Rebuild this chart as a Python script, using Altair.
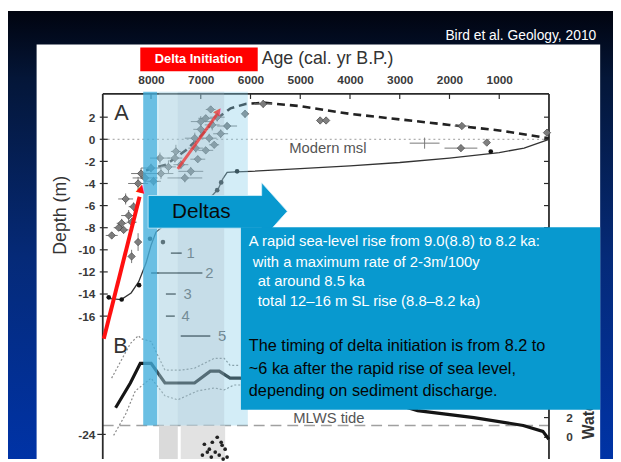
import altair as alt
import pandas as pd

W, H = 613, 454
X_DOM = [-1287, 10875]
Y_DOM = [-28.93, 11.61]
FONT = "Liberation Sans"

# ---------------- data ----------------
AGE_TICKS = [8000, 7000, 6000, 5000, 4000, 3000, 2000, 1000]
DEPTH_TICKS = [2, 0, -2, -4, -6, -8, -10, -12, -14, -16]
DEPTH_TICK_B = -26.7   # the "-24" tick of the lower panel

# panel A frame
A_LEFT, A_RIGHT, A_TOP, A_BOTTOM = 8970, 0, 4.1, -28.93

# sea-level index points (diamonds with error crosses)
PT_AGE = [5745, 6110, 4600, 4480, 1750, 1770, 1250, 40, 2500,
          7820, 7520, 7800, 7320, 7060, 7120, 7000, 6830, 6730, 7000,
          6770, 6470, 6670, 7500, 8120, 8000, 7650, 7400, 6900, 6600,
          7200, 7950, 6900, 6800, 7100,
          8790, 8450, 8590, 8550, 8260, 8390, 8260, 8200, 8650, 8390, 8510, 8350]
PT_DEPTH = [3.2, 2.3, 1.7, 1.7, 1.2, -0.8, -0.3, 0.6, -0.35,
            -1.7, -1.7, -3.1, -3.5, -1.8, 0.1, 0.9, 0.1, -0.5, 1.6,
            1.3, 1.2, 2.0, -1.1, -3.5, -2.6, -2.5, -2.3, -1.0, 0.5,
            -2.9, -3.8, 1.9, 2.7, -0.8,
            -8.7, -6.9, -7.6, -8.2, -9.3, -10.6, -4.0, -3.1, -8.0, -7.5, -5.4, -6.1]
PT_AGE_ERR = [180, 0, 0, 0, 150, 330, 0, 0, 300,
              200, 150, 250, 350, 150, 200, 150, 150, 100, 200,
              150, 200, 150, 100, 250, 200, 150, 150, 150, 150,
              250, 150, 150, 100, 150,
              120, 150, 100, 100, 0, 0, 200, 200, 100, 100, 150, 100]
PT_DEPTH_ERR = [0.35, 0.35, 0, 0, 0.2, 0.3, 0, 0.3, 0.5,
                0.5, 0.4, 0.5, 0.4, 0.3, 0.5, 0.4, 0.4, 0.3, 0.5,
                0.5, 0.3, 0.4, 0.6, 0.5, 0.4, 0.6, 0.4, 0.3, 0.4,
                0.4, 0.4, 0.3, 0.3, 0.4,
                0.3, 0.5, 0.4, 0.3, 0.8, 0.6, 0.6, 0.5, 0.3, 0.4, 0.5, 0.4]
PT_MARKER = [1, 1, 1, 1, 1, 1, 1, 1, 0] + [1] * 37

# limiting dates (black dots)
DOT_AGE = [8850, 8590, 8240, 8020, 7760, 6670, 6590, 6270, 1170]
DOT_DEPTH = [-14.3, -14.5, -13.2, -9.0, -9.3, -4.6, -3.9, -2.9, -1.1]

# upper envelope (dashed)
DASH_AGE = [8100, 7700, 7300, 7000, 6700, 6400, 6100, 5700, 5000, 4000, 3000, 2000, 1000, 0]
DASH_DEPTH = [-2.8, -2.3, -1.0, 0.3, 1.8, 2.8, 3.2, 3.3, 3.0, 2.3, 1.8, 1.3, 0.8, 0.1]

# lower envelope (solid)
LOW_AGE = [8880, 8600, 8400, 8250, 8100, 8000, 7900, 7600, 7300, 7000, 6750, 6650,
           6560, 6470, 6300, 6000, 5000, 4000, 3000, 2000, 1000, 500, 0]
LOW_DEPTH = [-14.4, -14.5, -13.9, -12.9, -11.2, -9.6, -8.4, -7.3, -6.6, -6.0, -5.0, -4.5,
             -3.6, -3.0, -2.95, -2.9, -2.65, -2.4, -2.1, -1.7, -1.2, -0.8, 0.0]

# numbered age ranges 1-5
NUM_LABEL = ["1", "2", "3", "4", "5"]
NUM_FROM = [7601, 7998, 7701, 7701, 7403]
NUM_TO = [7383, 6967, 7502, 7522, 6808]
NUM_DEPTH = [-10.3, -12.1, -14.0, -16.0, -17.8]
NUM_LABEL_AGE = [7205, 6828, 7264, 7304, 6570]

# panel B curves
B_MID_AGE = [8712, 8415, 8216, 7998, 7720, 7125, 6808, 6629, 6411, 6213, 5082, 3495,
             2641, 1510, 518, 122, 3]
B_MID_DEPTH = [-24.29, -22.05, -20.27, -20.27, -22.05, -22.05, -20.98, -20.98, -21.61,
               -21.61, -22.05, -23.39, -24.55, -25.18, -25.89, -26.43, -27.14]
B_UP_AGE = [8792, 8415, 8256, 8197, 7998, 7720, 7403, 7125, 6728, 6530, 6411, 6213]
B_UP_DEPTH = [-21.61, -18.48, -17.77, -18.04, -18.30, -20.89, -20.89, -20.71, -19.82,
              -19.82, -20.45, -20.45]
B_LO_AGE = [8752, 8514, 8316, 7998, 7720, 7462, 7066, 6728, 6530, 6332, 6173]
B_LO_DEPTH = [-26.79, -24.91, -22.77, -21.61, -23.21, -23.57, -22.77, -22.50, -22.68,
              -22.23, -22.23]
MLWS_DEPTH = -25.89

# panel C scatter (cut off at bottom)
C_AGE = [6927, 6768, 6669, 6570, 6828, 6709, 6629, 6510, 6967, 6471, 6788, 6590, 6868, 6550]
C_DEPTH = [-27.59, -27.41, -26.96, -27.68, -28.04, -28.30, -28.57, -28.04, -28.57, -28.75,
           -28.75, -27.41, -28.30, -28.93]

# delta-initiation shading (ages)
STRIPE = [8157, 7879]
BAND = [7879, 6054]
HATCH = [7839, 7462]
GREY = [7462, 6530]
LOW_GREY = [7403, 6510]
BAND_TOP, BAND_BOTTOM = 4.3, -25.9

# red arrows (rapid rise)
RED1_AGE = [8950, 8230]
RED1_DEPTH = [-18.04, -5.2]
RED1_HEAD = (8197, -4.4)
RED2_AGE = [7462, 6680]
RED2_DEPTH = [-2.68, 2.2]
RED2_HEAD = (6640, 2.55)

# "Deltas" arrow outline
ARROW_AGE = [8058, 5776, 5775, 5260]
ARROW_TOP = [-5.09, -5.09, -3.93, -6.52]
ARROW_BOT = [-8.04, -8.04, -9.10, -6.52]

# text box
BOX = dict(x=6193, x2=-1029, y=-7.95, y2=-24.46)
WHITE_LINES = ["A rapid sea-level rise from 9.0(8.8) to 8.2 ka:",
               "with a maximum rate of 2-3m/100y",
               "at around 8.5 ka",
               "total 12\u201316 m SL rise (8.8\u20138.2 ka)"]
WHITE_AGE = [6034, 5955, 5855, 5855]
WHITE_DEPTH = [-9.20, -11.07, -12.86, -14.64]
BLACK_LINES = ["The timing of delta initiation is from 8.2 to",
               "~6 ka after the rapid rise of sea level,",
               "depending on sediment discharge."]
BLACK_AGE = [6034, 6034, 6034]
BLACK_DEPTH = [-18.75, -20.80, -22.77]

# ---------------- scales / helpers ----------------
xs = alt.Scale(domain=X_DOM, reverse=True, nice=False, zero=False)
ys = alt.Scale(domain=Y_DOM, nice=False, zero=False)

XAX = alt.Axis(orient="top", offset=-84, values=AGE_TICKS, format="d", domain=False,
               ticks=False, tickSize=0, grid=False, labelPadding=7, title=None, zindex=1,
               labelFont=FONT, labelFontSize=12, labelFontWeight="bold",
               labelColor="#3a3a3a", labelFlush=False, labelOverlap=False)
YAX = alt.Axis(orient="left", offset=-96, values=DEPTH_TICKS + [DEPTH_TICK_B],
               labelExpr="datum.value < -20 ? '-24' : '' + datum.value",
               domain=False, ticks=False, tickSize=0, grid=False, labelPadding=8,
               title=None, zindex=1, labelFont=FONT, labelFontSize=12,
               labelFontWeight="bold", labelColor="#3a3a3a", labelFlush=False,
               labelOverlap=False)


def X(f):
    return alt.X(f, type="quantitative", scale=xs, axis=XAX)


def Y(f):
    return alt.Y(f, type="quantitative", scale=ys, axis=YAX)


def rect(x, x2, y, y2, **kw):
    d = pd.DataFrame({"x": [x], "x2": [x2], "y": [y], "y2": [y2]})
    return alt.Chart(d).mark_rect(**kw).encode(x=X("x"), x2="x2", y=Y("y"), y2="y2")


def rules(xl, x2l, yl, y2l, **kw):
    d = pd.DataFrame({"x": xl, "x2": x2l, "y": yl, "y2": y2l})
    return alt.Chart(d).mark_rule(**kw).encode(x=X("x"), x2="x2", y=Y("y"), y2="y2")


def line(ages, depths, **kw):
    d = pd.DataFrame({"a": ages, "d": depths, "o": list(range(len(ages)))})
    return alt.Chart(d).mark_line(**kw).encode(x=X("a"), y=Y("d"), order="o:Q")


def text(ages, depths, labels, **kw):
    d = pd.DataFrame({"a": ages, "d": depths, "t": labels})
    kw.setdefault("font", FONT)
    return alt.Chart(d).mark_text(**kw).encode(x=X("a"), y=Y("d"), text="t:N")


layers = []

# slide background gradient
layers.append(rect(X_DOM[1], X_DOM[0], Y_DOM[1], Y_DOM[0], color={
    "gradient": "linear", "x1": 0, "y1": 0, "x2": 0, "y2": 1,
    "stops": [{"offset": 0, "color": "#01040f"},
              {"offset": 0.15, "color": "#041638"},
              {"offset": 0.55, "color": "#052a78"},
              {"offset": 1, "color": "#0033a6"}]}))
# white figure panel
layers.append(rect(10300, -1029, 8.57, Y_DOM[0], color="white"))

# modern msl dotted + MLWS dashed
layers.append(rules([A_LEFT], [A_RIGHT], [0], [0], color="#9a9a9a", strokeDash=[2, 3], strokeWidth=1))
layers.append(rules([A_LEFT], [A_RIGHT], [MLWS_DEPTH], [MLWS_DEPTH], color="#a0a0a0",
                    strokeDash=[11, 6], strokeWidth=1.5))

# lower grey blocks under the shading
layers.append(rect(HATCH[0], HATCH[1], BAND_BOTTOM, A_BOTTOM, color="#dadada"))
layers.append(rect(LOW_GREY[0], LOW_GREY[1], BAND_BOTTOM, A_BOTTOM, color="#e2e2e2"))

# frame and ticks
layers.append(rules([A_LEFT, A_LEFT, A_RIGHT], [A_RIGHT, A_LEFT, A_RIGHT],
                    [A_TOP, A_TOP, A_TOP], [A_TOP, A_BOTTOM, A_BOTTOM],
                    color="#2a2a2a", strokeWidth=1.8))
layers.append(rules(AGE_TICKS, AGE_TICKS, [A_TOP] * 8, [A_TOP - 0.45] * 8,
                    color="#2a2a2a", strokeWidth=1.2))
layers.append(rules([A_LEFT + 60] * 10, [A_LEFT - 100] * 10, DEPTH_TICKS, DEPTH_TICKS,
                    color="#2a2a2a", strokeWidth=1.2))
layers.append(rules([A_RIGHT] * 10, [A_RIGHT + 100] * 10, DEPTH_TICKS, DEPTH_TICKS,
                    color="#2a2a2a", strokeWidth=1.2))
layers.append(rules([A_LEFT + 110, A_RIGHT, A_RIGHT], [A_LEFT - 60, A_RIGHT + 100, A_RIGHT + 100],
                    [DEPTH_TICK_B, -25.18, -26.96], [DEPTH_TICK_B, -25.18, -26.96],
                    color="#2a2a2a", strokeWidth=1.2))

# envelopes
layers.append(line(LOW_AGE, LOW_DEPTH, color="#333333", strokeWidth=1.3))
layers.append(line(DASH_AGE, DASH_DEPTH, color="#222222", strokeWidth=2.6, strokeDash=[8, 5]))

# error bars and points
pts = pd.DataFrame({"a": PT_AGE, "d": PT_DEPTH, "ae": PT_AGE_ERR, "de": PT_DEPTH_ERR,
                    "m": PT_MARKER})
pts["a1"] = pts["a"] - pts["ae"]
pts["a2"] = pts["a"] + pts["ae"]
pts["d1"] = pts["d"] - pts["de"]
pts["d2"] = pts["d"] + pts["de"]
layers.append(alt.Chart(pts).mark_rule(color="#777777", strokeWidth=1).encode(
    x=X("a1"), x2="a2", y=Y("d")))
layers.append(alt.Chart(pts).mark_rule(color="#777777", strokeWidth=1).encode(
    x=X("a"), y=Y("d1"), y2="d2"))
layers.append(alt.Chart(pts[pts["m"] == 1]).mark_point(
    shape="diamond", filled=True, size=55, color="#7a7a7a", stroke="#4a4a4a",
    strokeWidth=0.8, opacity=0.95).encode(x=X("a"), y=Y("d")))
dots = pd.DataFrame({"a": DOT_AGE, "d": DOT_DEPTH})
layers.append(alt.Chart(dots).mark_circle(size=22, color="#111111", opacity=1).encode(
    x=X("a"), y=Y("d")))

# numbered ranges
layers.append(rules(NUM_FROM, NUM_TO, NUM_DEPTH, NUM_DEPTH, color="#222222", strokeWidth=1.6))
layers.append(text(NUM_LABEL_AGE, NUM_DEPTH, NUM_LABEL, fontSize=15, color="#555555",
                   align="center", baseline="middle"))

# panel B
layers.append(line(B_UP_AGE, B_UP_DEPTH, color="#8a8a8a", strokeWidth=1.2, strokeDash=[2, 2]))
layers.append(line(B_LO_AGE, B_LO_DEPTH, color="#8a8a8a", strokeWidth=1.2, strokeDash=[2, 2]))
layers.append(line(B_MID_AGE, B_MID_DEPTH, color="#151515", strokeWidth=3.2))

cdf = pd.DataFrame({"a": C_AGE, "d": C_DEPTH})
layers.append(alt.Chart(cdf).mark_circle(size=14, color="#222222", opacity=1).encode(
    x=X("a"), y=Y("d")))

# figure texts
layers.append(text([8593], [2.35], ["A"], fontSize=22, color="#333333", align="center",
                   baseline="middle"))
layers.append(text([8613], [-18.75], ["B"], fontSize=22, color="#333333", align="center",
                   baseline="middle"))
layers.append(text([5221], [-0.8], ["Modern msl"], fontSize=15, color="#555555", align="left",
                   baseline="middle"))
layers.append(text([5141], [-25.18], ["MLWS tide"], fontSize=15, color="#555555", align="left",
                   baseline="middle"))
layers.append(text([-414, -414], [-25.18, -26.96], ["2", "0"], fontSize=12, fontWeight="bold",
                   color="#3a3a3a", align="center", baseline="middle"))
layers.append(text([-811], [-27.14], ["Water depth (m)"], fontSize=16, fontWeight="bold",
                   color="#333333", align="left", baseline="middle", angle=270))
layers.append(text([9804], [-6.88], ["Depth (m)"], fontSize=18, color="#333333", align="center",
                   baseline="middle", angle=270))

# delta initiation shading
layers.append(rect(STRIPE[0], STRIPE[1], BAND_TOP, BAND_BOTTOM, color="#45afdc", opacity=0.8))
layers.append(rect(BAND[0], BAND[1], BAND_TOP, BAND_BOTTOM, color="#86cde8", opacity=0.36))
layers.append(rect(HATCH[0], HATCH[1], BAND_TOP, BAND_BOTTOM, color="#c8d2d8", opacity=0.25))
layers.append(rect(GREY[0], GREY[1], BAND_TOP, BAND_BOTTOM, color="#9fb0ba", opacity=0.25))

# red arrows
layers.append(line(RED1_AGE, RED1_DEPTH, color="#ff1010", strokeWidth=4))
layers.append(text([RED1_HEAD[0]], [RED1_HEAD[1]], ["\u25B2"], fontSize=15, color="#ff1010",
                   align="center", baseline="middle", angle=14))
layers.append(line(RED2_AGE, RED2_DEPTH, color="#f03030", strokeWidth=3, opacity=0.75))
layers.append(text([RED2_HEAD[0]], [RED2_HEAD[1]], ["\u25B2"], fontSize=13, color="#f03030",
                   opacity=0.75, align="center", baseline="middle", angle=35))

# Deltas arrow
adf = pd.DataFrame({"a": ARROW_AGE, "t": ARROW_TOP, "b": ARROW_BOT})
layers.append(alt.Chart(adf).mark_area(color="#0899cf", stroke="#d8f0fa", strokeWidth=0.8,
                                       opacity=1).encode(x=X("a"), y=Y("t"), y2="b"))
layers.append(text([6988], [-6.6], ["Deltas"], fontSize=21, color="#0a0a0a", align="center",
                   baseline="middle"))

# explanation box
layers.append(rect(BOX["x"], BOX["x2"], BOX["y"], BOX["y2"], color="#0899cf"))
layers.append(text(WHITE_AGE, WHITE_DEPTH, WHITE_LINES, fontSize=15, color="white",
                   align="left", baseline="middle"))
layers.append(text(BLACK_AGE, BLACK_DEPTH, BLACK_LINES, fontSize=16.5, color="#050505",
                   align="left", baseline="middle"))

# header
layers.append(rect(8216, 5855, 8.30, 6.16, color="#ff0000"))
layers.append(text([7035], [7.23], ["Delta Initiation"], fontSize=13, fontWeight="bold",
                   color="white", align="center", baseline="middle"))
layers.append(text([5776], [7.3], ["Age (cal. yr B.P.)"], fontSize=18, color="#333333",
                   align="left", baseline="middle"))
layers.append(text([-950], [9.375], ["Bird et al. Geology, 2010"], fontSize=14, color="white",
                   align="right", baseline="middle"))

chart = alt.layer(*layers).properties(
    width=W, height=H, padding=0, autosize=alt.AutoSizeParams(type="none"),
    background="white",
).configure_view(stroke=None)

chart.save("out.html", embed_options={"renderer": "svg", "actions": False})
